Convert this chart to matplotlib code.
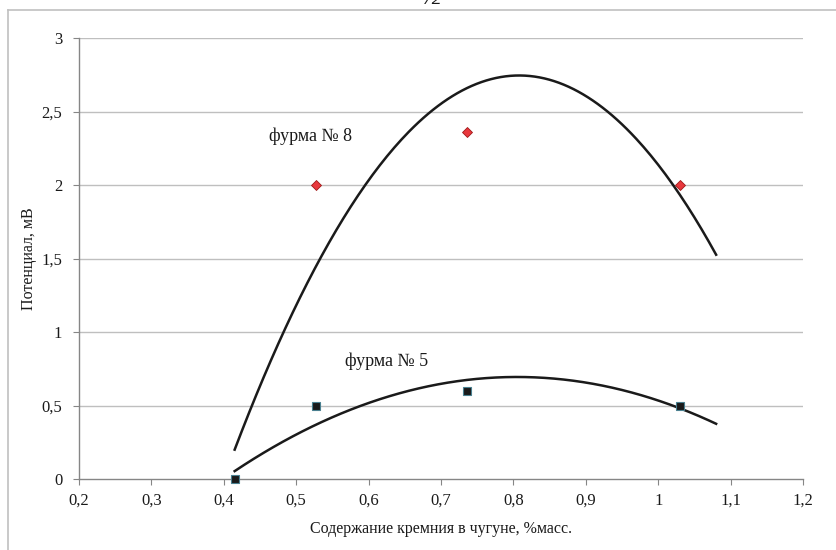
import numpy as np
import matplotlib
matplotlib.use("Agg")
import matplotlib.pyplot as plt
from matplotlib.lines import Line2D

# Data
x_tuyere8 = [0.527, 0.736, 1.03]
y_tuyere8 = [2.0, 2.36, 2.0]
x_tuyere5 = [0.415, 0.527, 0.736, 1.03]
y_tuyere5 = [0.0, 0.5, 0.6, 0.5]

# Trend lines (2nd order, vertex form): vertex x, vertex y, curvature
trend8 = (0.808, 2.745, -16.48)
trend5 = (0.805, 0.694, -4.21)
trend_range = (0.415, 1.08)

x_ticks = [0.2, 0.3, 0.4, 0.5, 0.6, 0.7, 0.8, 0.9, 1.0, 1.1, 1.2]
x_ticklabels = ["0,2", "0,3", "0,4", "0,5", "0,6", "0,7", "0,8", "0,9", "1", "1,1", "1,2"]
y_ticks = [0, 0.5, 1, 1.5, 2, 2.5, 3]
y_ticklabels = ["0", "0,5", "1", "1,5", "2", "2,5", "3"]

plt.rcParams['font.family'] = ['Liberation Serif', 'DejaVu Serif']

W, H = 836, 550
fig = plt.figure(figsize=(W / 100, H / 100), dpi=100)
ax = fig.add_axes([79 / W, 1 - 479 / H, (803 - 79) / W, (479 - 38) / H])

grid_c = '#bfbfbf'
axis_c = '#868686'

for yv in y_ticks[1:]:
    ax.axhline(yv, color=grid_c, lw=1.0, zorder=1)

def trend(params):
    xv, yv, a = params
    xs = np.linspace(trend_range[0], trend_range[1], 200)
    return xs, yv + a * (xs - xv) ** 2

xs, ys = trend(trend8)
ax.plot(xs, ys, color='#1a1a1a', lw=1.8, zorder=3)
xs, ys = trend(trend5)
ax.plot(xs, ys, color='#1a1a1a', lw=1.8, zorder=3)

ax.plot(x_tuyere8, y_tuyere8, ls='none', marker='D', ms=5, mfc='#e8383d',
        mec='#a01818', mew=0.6, zorder=4, clip_on=False)
ax.plot(x_tuyere5, y_tuyere5, ls='none', marker='s', ms=5.5, mfc='#1a1a1a',
        mec='#4a8090', mew=0.8, zorder=4, clip_on=False)

ax.text(0.462, 2.33, "фурма № 8", fontsize=13, va='center', ha='left', color='#1a1a1a')
ax.text(0.567, 0.80, "фурма № 5", fontsize=13, va='center', ha='left', color='#1a1a1a')

ax.set_xlim(0.2, 1.2)
ax.set_ylim(0, 3)
ax.set_xticks(x_ticks)
ax.set_xticklabels(x_ticklabels)
ax.set_yticks(y_ticks)
ax.set_yticklabels(y_ticklabels)
ax.tick_params(axis='both', direction='out', length=4, width=0.8, color=axis_c,
               labelsize=12, labelcolor='#1a1a1a')
ax.tick_params(axis='x', pad=6)
ax.tick_params(axis='y', pad=8)
for s in ['top', 'right']:
    ax.spines[s].set_visible(False)
for s in ['left', 'bottom']:
    ax.spines[s].set_color(axis_c)
    ax.spines[s].set_linewidth(1.0)

ax.set_xlabel("Содержание кремния в чугуне, %масс.", fontsize=11.5, color='#1a1a1a', labelpad=9)
ax.set_ylabel("Потенциал, мВ", fontsize=11.5, color='#1a1a1a')
ax.yaxis.set_label_coords((37 - 79) / (803 - 79), 0.5)

# Outer chart border (top and left visible)
fig.add_artist(Line2D([7.5 / W, 7.5 / W], [0, 1 - 9.5 / H], color='#c0c0c0', lw=1.2,
                      transform=fig.transFigure))
fig.add_artist(Line2D([7.5 / W, 1], [1 - 9.5 / H, 1 - 9.5 / H], color='#c0c0c0', lw=1.2,
                      transform=fig.transFigure))

# Page number cut at top
fig.text(433 / W, 1 - 4 / H, "72", fontsize=14, style='italic', ha='center', va='baseline',
         color='#1a1a1a')

fig.savefig("out.png", dpi=100)
